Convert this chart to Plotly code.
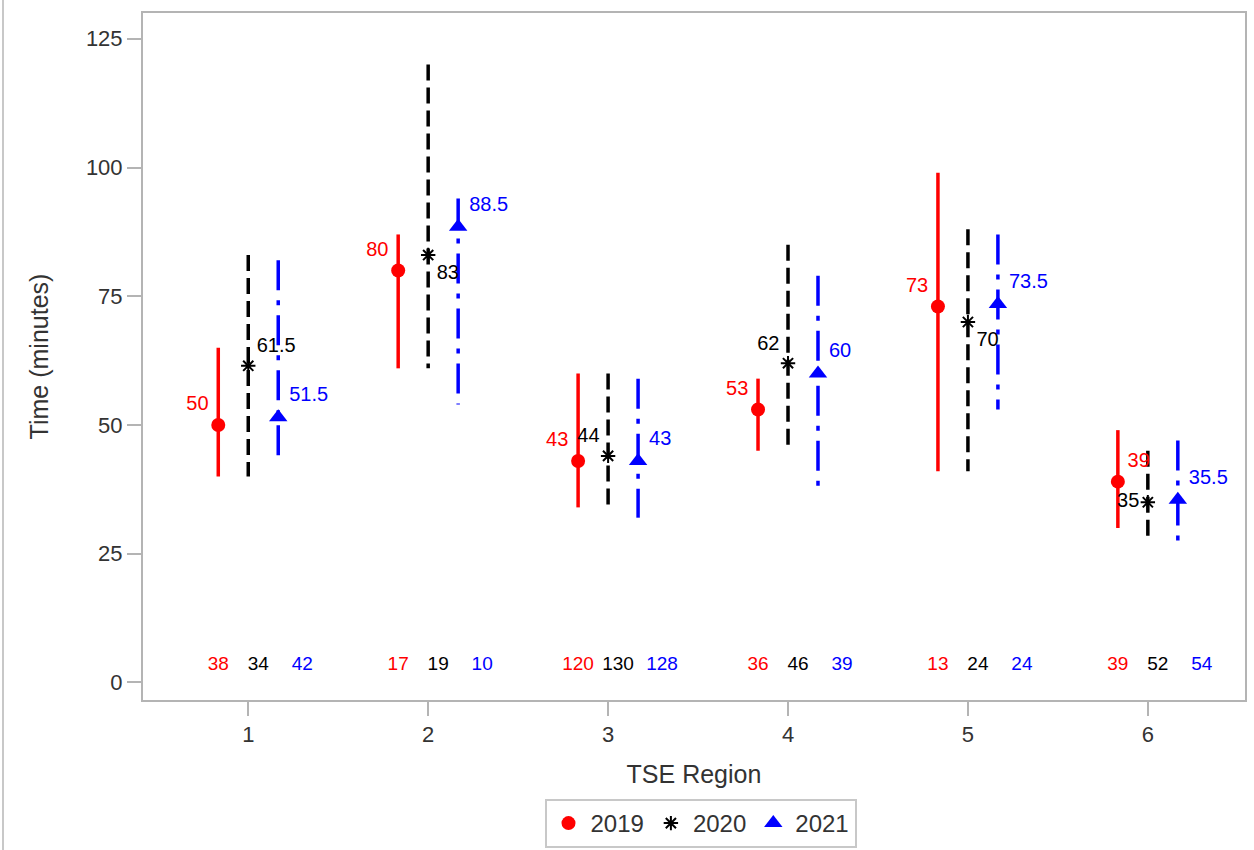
import plotly.graph_objects as go

regions = [1, 2, 3, 4, 5, 6]
years = ["2019", "2020", "2021"]

med_2019 = [50, 80, 43, 53, 73, 39]
lo_2019 = [40, 61, 34, 45, 41, 30]
hi_2019 = [65, 87, 60, 59, 99, 49]
n_2019 = [38, 17, 120, 36, 13, 39]

med_2020 = [61.5, 83, 44, 62, 70, 35]
lo_2020 = [40, 61, 33.5, 45, 41, 28]
hi_2020 = [83, 120, 60, 85, 88, 45]
n_2020 = [34, 19, 130, 46, 24, 52]

med_2021 = [51.5, 88.5, 43, 60, 73.5, 35.5]
lo_2021 = [43, 54, 32, 38, 53, 27]
hi_2021 = [82, 94, 59, 79, 87, 47]
n_2021 = [42, 10, 128, 39, 24, 54]

pos_2019 = ["top left", "top left", "top left", "top left", "top left", "top right"]
pos_2020 = ["top right", "bottom right", "top left", "top left", "bottom right", "middle left"]
pos_2021 = ["top right"] * 6

count_y = 3.3

series = [
    dict(name="2019", med=med_2019, lo=lo_2019, hi=hi_2019, n=n_2019, pos=pos_2019,
         off=-1/6, noff=-30/180, color="#ff0000", dash="solid", symbol="circle", size=14),
    dict(name="2020", med=med_2020, lo=lo_2020, hi=hi_2020, n=n_2020, pos=pos_2020,
         off=0.0, noff=10/180, color="#000000", dash="16px,7px", symbol="asterisk-open", size=12),
    dict(name="2021", med=med_2021, lo=lo_2021, hi=hi_2021, n=n_2021, pos=pos_2021,
         off=1/6, noff=54/180, color="#0000ff", dash="30px,10px,5px,10px", symbol="triangle-up", size=16),
]

fig = go.Figure()
font = "Arial"

for s in series:
    xs = [r + s["off"] for r in regions]
    lx, ly = [], []
    for x, lo, hi in zip(xs, s["lo"], s["hi"]):
        lx += [x, x, None]
        ly += [hi, lo, None]
    fig.add_trace(go.Scatter(x=lx, y=ly, mode="lines",
                             line=dict(color=s["color"], width=3.5, dash=s["dash"]),
                             showlegend=False, hoverinfo="skip"))

for s in series:
    xs = [r + s["off"] for r in regions]
    marker = dict(symbol=s["symbol"], size=s["size"], color=s["color"])
    if s["symbol"] == "asterisk-open":
        marker["line"] = dict(color=s["color"], width=2)
    fig.add_trace(go.Scatter(x=xs, y=s["med"], mode="markers+text", name=s["name"],
                             marker=marker,
                             text=[str(v) for v in s["med"]],
                             textposition=s["pos"],
                             textfont=dict(family=font, size=20, color=s["color"])))
    fig.add_trace(go.Scatter(x=[r + s["noff"] for r in regions], y=[count_y] * len(regions),
                             mode="text",
                             text=[str(v) for v in s["n"]],
                             textposition="middle center",
                             textfont=dict(family=font, size=19, color=s["color"]),
                             showlegend=False, hoverinfo="skip"))

axis_common = dict(showline=True, linecolor="#b4b4b4", linewidth=2, mirror=True,
                   ticks="outside", tickcolor="#b4b4b4", ticklen=14, tickwidth=2,
                   showgrid=False, zeroline=False, automargin=False,
                   tickfont=dict(family=font, size=22, color="#333333"),
                   title_font=dict(family=font, size=25, color="#333333"))

fig.update_layout(
    width=1254, height=850,
    paper_bgcolor="white", plot_bgcolor="white",
    margin=dict(l=143, r=9, t=13, b=150),
    xaxis=dict(range=[0.415, 6.54], tickvals=regions, title_text="TSE Region",
               title_standoff=19, **axis_common),
    yaxis=dict(range=[-3.4, 130], tickvals=[0, 25, 50, 75, 100, 125],
               title_text="Time (minutes)", title_standoff=30, **axis_common),
    legend=dict(orientation="h", x=(541 + 860) / 2 / 1254, xanchor="center", xref="container",
                y=2 / 850, yanchor="bottom", yref="container",
                bordercolor="#c8c8c8", borderwidth=2,
                font=dict(family=font, size=24, color="#333333"),
                itemwidth=34, tracegroupgap=0),
    shapes=[dict(type="line", xref="paper", yref="paper",
                 x0=-140/1102, x1=-140/1102, y0=-150/687, y1=1 + 13/687,
                 line=dict(color="#c8c8c8", width=2))],
)

fig.write_html("out.html", config={"displayModeBar": False},
               post_script="document.body.style.margin='0';document.body.style.overflow='hidden';")
